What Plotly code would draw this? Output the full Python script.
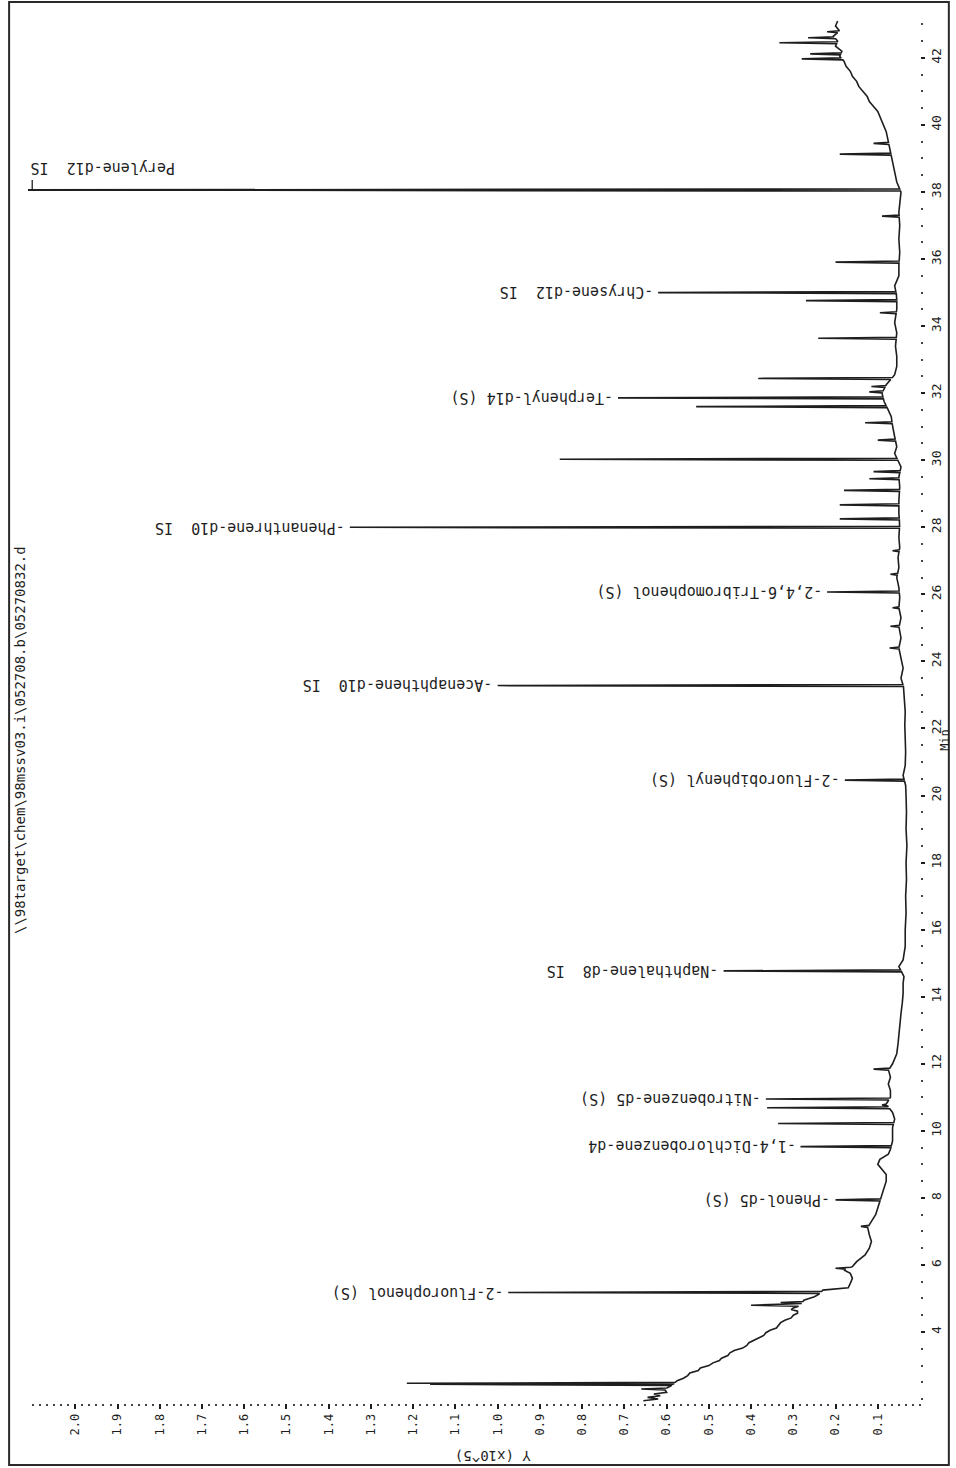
import numpy as np
import plotly.graph_objects as go

# ---------------- data ----------------
# baseline of the chromatogram: retention time (min) and abundance (x10^5)
base_t = [1.95, 2.00, 2.05, 2.10, 2.15, 2.20, 2.30, 2.38, 2.55, 2.62, 2.70, 2.78, 2.85, 2.93, 3.00, 3.08,
          3.15, 3.22, 3.30, 3.38, 3.45, 3.52, 3.60, 3.68, 3.75, 3.83, 3.90, 3.98, 4.05, 4.12, 4.20, 4.28,
          4.35, 4.42, 4.50, 4.56, 4.62, 4.67, 4.72, 4.78, 4.85, 4.95, 5.05, 5.12, 5.25, 5.32,
          5.45, 5.60, 5.75, 5.85, 5.95, 6.10, 6.30, 6.50, 6.70, 6.90, 7.10, 7.30, 7.50, 7.70, 7.90,
          8.10, 8.30, 8.50, 8.70, 8.85, 9.00, 9.15, 9.30, 9.45, 9.70, 9.90, 10.10, 10.35, 10.55, 10.80,
          11.00, 11.20, 11.40, 11.60, 11.80, 12.00, 12.30, 12.60, 12.90, 13.20, 13.50, 13.80, 14.10, 14.40, 14.60,
          14.90, 15.10, 15.50, 16.00, 16.50, 17.00, 17.50, 18.00, 18.50, 19.00, 19.50, 20.00, 20.30, 20.60, 20.90,
          21.30, 21.70, 22.10, 22.50, 22.90, 23.20, 23.50, 23.80, 24.10, 24.40, 24.70, 25.00, 25.30, 25.60, 25.90,
          26.20, 26.50, 26.80, 27.10, 27.40, 27.70, 28.10, 28.40, 28.80, 29.20, 29.50, 29.80, 30.20, 30.40, 30.70,
          31.00, 31.30, 31.50, 31.75, 32.00, 32.25, 32.55, 32.80, 33.10, 33.40, 33.80, 34.10, 34.50, 34.90, 35.20,
          35.50, 35.80, 36.20, 36.60, 37.00, 37.40, 37.70, 38.00, 38.30, 38.60, 38.90, 39.20, 39.50, 39.80, 40.10,
          40.25, 40.40, 40.55, 40.70, 40.85, 41.00, 41.15, 41.30, 41.45, 41.60, 41.75, 41.90, 42.05, 42.20,
          42.35, 42.50, 42.65, 42.80, 42.95, 43.10]
base_v = [0.655, 0.62, 0.645, 0.615, 0.63, 0.60, 0.605, 0.59, 0.575, 0.56, 0.55, 0.545, 0.525, 0.52, 0.50, 0.49,
          0.475, 0.47, 0.455, 0.45, 0.44, 0.42, 0.41, 0.405, 0.395, 0.38, 0.37, 0.365, 0.355, 0.34, 0.335, 0.33,
          0.32, 0.305, 0.30, 0.29, 0.29, 0.305, 0.30, 0.285, 0.28, 0.275, 0.25, 0.24, 0.23, 0.17,
          0.165, 0.16, 0.165, 0.18, 0.16, 0.15, 0.13, 0.12, 0.115, 0.12, 0.125, 0.115, 0.105, 0.10, 0.095,
          0.09, 0.085, 0.08, 0.08, 0.09, 0.10, 0.095, 0.075, 0.07, 0.065, 0.065, 0.065, 0.06, 0.065, 0.08,
          0.07, 0.07, 0.075, 0.07, 0.075, 0.065, 0.055, 0.052, 0.05, 0.047, 0.045, 0.042, 0.040, 0.040, 0.038,
          0.05, 0.040, 0.035, 0.035, 0.033, 0.034, 0.032, 0.033, 0.031, 0.033, 0.032, 0.033, 0.034, 0.04, 0.035,
          0.034, 0.035, 0.036, 0.035, 0.037, 0.038, 0.045, 0.040, 0.045, 0.05, 0.045, 0.05, 0.045, 0.05, 0.048,
          0.05, 0.055, 0.05, 0.052, 0.048, 0.05, 0.048, 0.05, 0.05, 0.048, 0.05, 0.045, 0.06, 0.055, 0.06,
          0.065, 0.068, 0.075, 0.085, 0.09, 0.08, 0.06, 0.055, 0.055, 0.058, 0.055, 0.06, 0.055, 0.055, 0.06,
          0.05, 0.05, 0.048, 0.05, 0.048, 0.05, 0.047, 0.045, 0.055, 0.06, 0.065, 0.07, 0.075, 0.08, 0.09,
          0.095, 0.10, 0.11, 0.12, 0.125, 0.135, 0.145, 0.15, 0.16, 0.165, 0.175, 0.18, 0.19, 0.185,
          0.20, 0.195, 0.205, 0.19, 0.20, 0.195]

# unlabelled peaks: apex time (min) and apex abundance (x10^5)
peak_t = [2.30, 2.44, 2.47, 4.80, 4.88, 5.90, 7.15, 10.22, 10.69, 10.77, 11.84, 24.40, 25.05, 25.60,
          26.60, 27.30, 28.25, 28.67, 29.10, 29.45, 29.66, 30.03, 30.60, 31.12, 31.60, 32.04, 32.20,
          32.44, 33.64, 34.40, 34.76, 35.91, 37.28, 39.13, 39.45, 41.97, 42.12, 42.45, 42.60, 42.78]
peak_h = [0.66, 1.16, 1.215, 0.40, 0.33, 0.20, 0.14, 0.336, 0.362, 0.09, 0.11, 0.072, 0.07, 0.065,
          0.07, 0.065, 0.19, 0.19, 0.18, 0.12, 0.11, 0.853, 0.10, 0.13, 0.53, 0.12, 0.115,
          0.383, 0.241, 0.095, 0.27, 0.20, 0.09, 0.19, 0.11, 0.28, 0.26, 0.333, 0.265, 0.22]

# identified compounds
cmp_names = ["-2-Fluorophenol (S)", "-Phenol-d5 (S)", "-1,4-Dichlorobenzene-d4", "-Nitrobenzene-d5 (S)",
             "-Naphthalene-d8\u00a0 IS", "-2-Fluorobiphenyl (S)", "-Acenaphthene-d10\u00a0 IS",
             "-2,4,6-Tribromophenol (S)", "-Phenanthrene-d10\u00a0 IS", "-Terphenyl-d14 (S)",
             "-Chrysene-d12\u00a0 IS", "Perylene-d12\u00a0 IS"]
cmp_t = [5.18, 7.94, 9.53, 10.95, 14.77, 20.46, 23.28, 26.07, 28.00, 31.86, 35.00, 38.06]
cmp_h = [0.975, 0.20, 0.283, 0.365, 0.465, 0.178, 1.00, 0.22, 1.35, 0.715, 0.62, 2.30]

x_tickvals = [round(0.1 * i, 1) for i in range(1, 21)]
x_ticktext = [f"{v:.1f}" for v in x_tickvals]
t_tickvals = list(range(4, 43, 2))

file_path = "\\\\98target\\chem\\98mssv03.i\\052708.b\\05270832.d"

# ---------------- build figure ----------------
X_RANGE = [2.112, 0.0]
T_RANGE = [1.883, 43.13]
HALF_W = 0.03
INK = "#1e1e1e"
MONO = "DejaVu Sans Mono"

all_t = list(peak_t) + list(cmp_t)
all_h = list(peak_h) + list(cmp_h)

pts = [(t, v) for t, v in zip(base_t, base_v)
       if all(abs(t - pt) > HALF_W for pt in all_t)]
for t, h in zip(all_t, all_h):
    b1 = float(np.interp(t - HALF_W, base_t, base_v))
    b2 = float(np.interp(t + HALF_W, base_t, base_v))
    pts += [(t - HALF_W, b1), (t, h), (t + HALF_W, b2)]
pts.sort()

fig = go.Figure()
fig.add_trace(go.Scatter(
    x=[p[1] for p in pts], y=[p[0] for p in pts], mode="lines",
    line=dict(color=INK, width=1.6), hoverinfo="skip", showlegend=False))

annotations = []
shapes = []
for name, t, h in zip(cmp_names, cmp_t, cmp_h):
    if h > X_RANGE[0]:
        annotations.append(dict(x=X_RANGE[0], y=t, xref="x", yref="y", text=name,
                                showarrow=False, textangle=180, xanchor="left", yanchor="middle",
                                yshift=22, xshift=0, font=dict(family=MONO, size=15, color=INK)))
        shapes.append(dict(type="line", xref="x", yref="y", x0=X_RANGE[0] - 0.01, x1=X_RANGE[0] - 0.01,
                           y0=t, y1=t + 0.3, line=dict(color=INK, width=1.3)))
    else:
        annotations.append(dict(x=h, y=t, xref="x", yref="y", text=name,
                                showarrow=False, textangle=180, xanchor="right", yanchor="middle",
                                xshift=-3, font=dict(family=MONO, size=15, color=INK)))

L, R, T, B = 28, 31, 20, 65
PW, PH = 956 - L - R, 1468 - T - B


def px(xpix):
    return (xpix - L) / PW


def py(ypix):
    return (1468 - B - ypix) / PH


annotations += [
    dict(x=px(20), y=py(740), xref="paper", yref="paper", text=file_path, showarrow=False,
         textangle=-90, xanchor="center", yanchor="middle",
         font=dict(family=MONO, size=14, color=INK)),
    dict(x=px(950), y=py(740), xref="paper", yref="paper", text="Min", showarrow=False,
         textangle=-90, xanchor="center", yanchor="middle", borderpad=0,
         font=dict(family=MONO, size=12, color=INK)),
    dict(x=px(495), y=py(1456), xref="paper", yref="paper", text="Y (x10^5)", showarrow=False,
         textangle=180, xanchor="center", yanchor="middle",
         font=dict(family=MONO, size=14, color=INK)),
]
shapes.append(dict(type="rect", xref="paper", yref="paper",
                   x0=px(9), x1=px(954), y0=py(1465), y1=py(2),
                   line=dict(color="#2a2a2a", width=2)))

fig.update_layout(
    width=956, height=1468,
    margin=dict(l=L, r=R, t=T, b=B),
    paper_bgcolor="white", plot_bgcolor="white",
    showlegend=False,
    font=dict(family=MONO, color=INK),
    annotations=annotations, shapes=shapes,
    xaxis=dict(range=X_RANGE, tickmode="array", tickvals=x_tickvals, ticktext=x_ticktext,
               tickangle=-90, ticks="outside", ticklen=5, tickwidth=1.5, tickcolor=INK,
               tickfont=dict(family=MONO, size=12, color=INK),
               showgrid=False, zeroline=False, showline=False,
               minor=dict(tickmode="linear", tick0=0, dtick=0.1 / 6, ticks="outside",
                          ticklen=2, tickwidth=2, tickcolor="#444")),
    yaxis=dict(range=T_RANGE, side="right", tickmode="array", tickvals=t_tickvals,
               tickangle=-90, ticks="outside", ticklen=4, tickwidth=1.5, tickcolor=INK,
               tickfont=dict(family=MONO, size=13, color=INK),
               showgrid=False, zeroline=False, showline=False,
               minor=dict(tickmode="linear", tick0=0, dtick=0.5, ticks="outside",
                          ticklen=2, tickwidth=2, tickcolor="#444")),
)

fig.write_html("out.html")
